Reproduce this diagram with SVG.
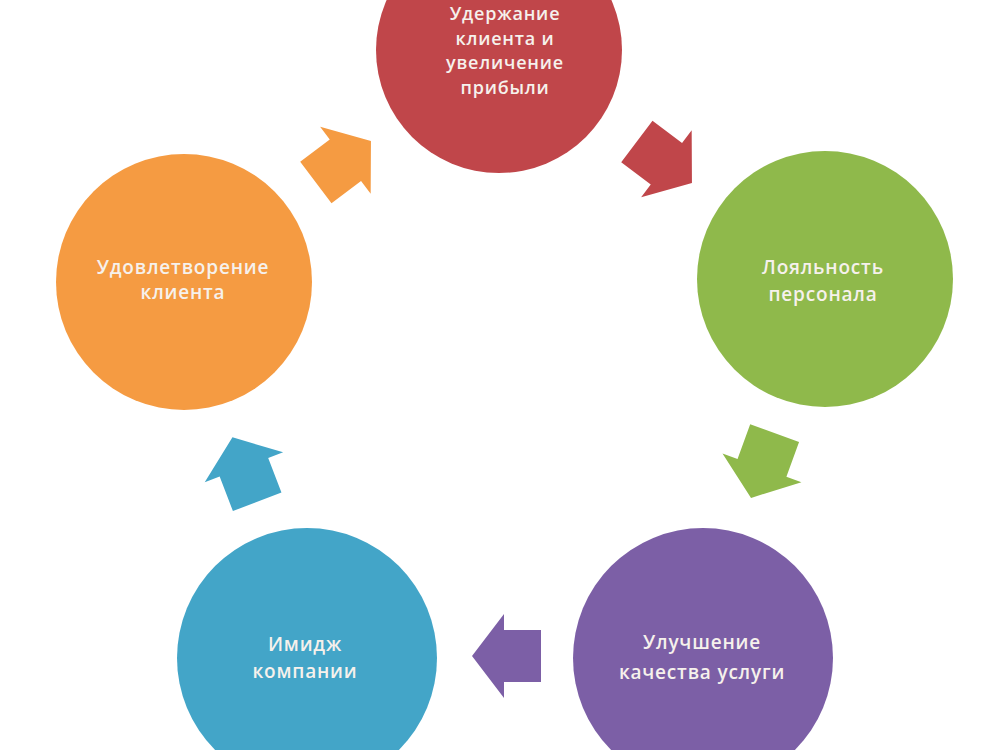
<svg xmlns="http://www.w3.org/2000/svg" width="1000" height="750" viewBox="0 0 1000 750">
  <defs>
    <style>
      .lbl { font-family: "Open Sans", "Liberation Sans", sans-serif; font-size: 19px; font-weight: 600; letter-spacing: 0.8px; fill: #f6f1ec; text-anchor: middle; }
      .top { font-size: 18px; }
    </style>
    <path id="arr" d="M35,0 L3,-42 L3,-26 L-34,-26 L-34,26 L3,26 L3,42 Z"/>
  </defs>
  <rect width="1000" height="750" fill="#ffffff"/>

  <g id="connectors">
    <use href="#arr" fill="#c0464a" transform="translate(664,162) rotate(37)"/>
    <use href="#arr" fill="#8fb94b" transform="translate(763,465) rotate(110)"/>
    <use href="#arr" fill="#7c5fa6" transform="translate(507,656) rotate(180)"/>
    <use href="#arr" fill="#43a5c8" transform="translate(245,470) rotate(-111)"/>
    <use href="#arr" fill="#f59b42" transform="translate(343,162) rotate(-37)"/>
  </g>

  <g id="node-retention">
    <circle cx="499" cy="50" r="123" fill="#c0464a"/>
    <text class="lbl top" x="505" y="20"><tspan x="505" y="20">Удержание</tspan><tspan x="505" y="44.5">клиента и</tspan><tspan x="505" y="69">увеличение</tspan><tspan x="505" y="93.5">прибыли</tspan></text>
  </g>

  <g id="node-loyalty">
    <circle cx="825" cy="279" r="128" fill="#8fb94b"/>
    <text class="lbl" x="823" y="274"><tspan x="823" y="274">Лояльность</tspan><tspan x="823" y="301">персонала</tspan></text>
  </g>

  <g id="node-quality">
    <circle cx="703" cy="658" r="130" fill="#7c5fa6"/>
    <text class="lbl" x="702" y="649"><tspan x="702" y="649">Улучшение</tspan><tspan x="702" y="679">качества услуги</tspan></text>
  </g>

  <g id="node-image">
    <circle cx="307" cy="658" r="130" fill="#43a5c8"/>
    <text class="lbl" x="305" y="651"><tspan x="305" y="651">Имидж</tspan><tspan x="305" y="678">компании</tspan></text>
  </g>

  <g id="node-satisfaction">
    <circle cx="184" cy="282" r="128" fill="#f59b42"/>
    <text class="lbl" x="183" y="274"><tspan x="183" y="274">Удовлетворение</tspan><tspan x="183" y="299">клиента</tspan></text>
  </g>
</svg>
